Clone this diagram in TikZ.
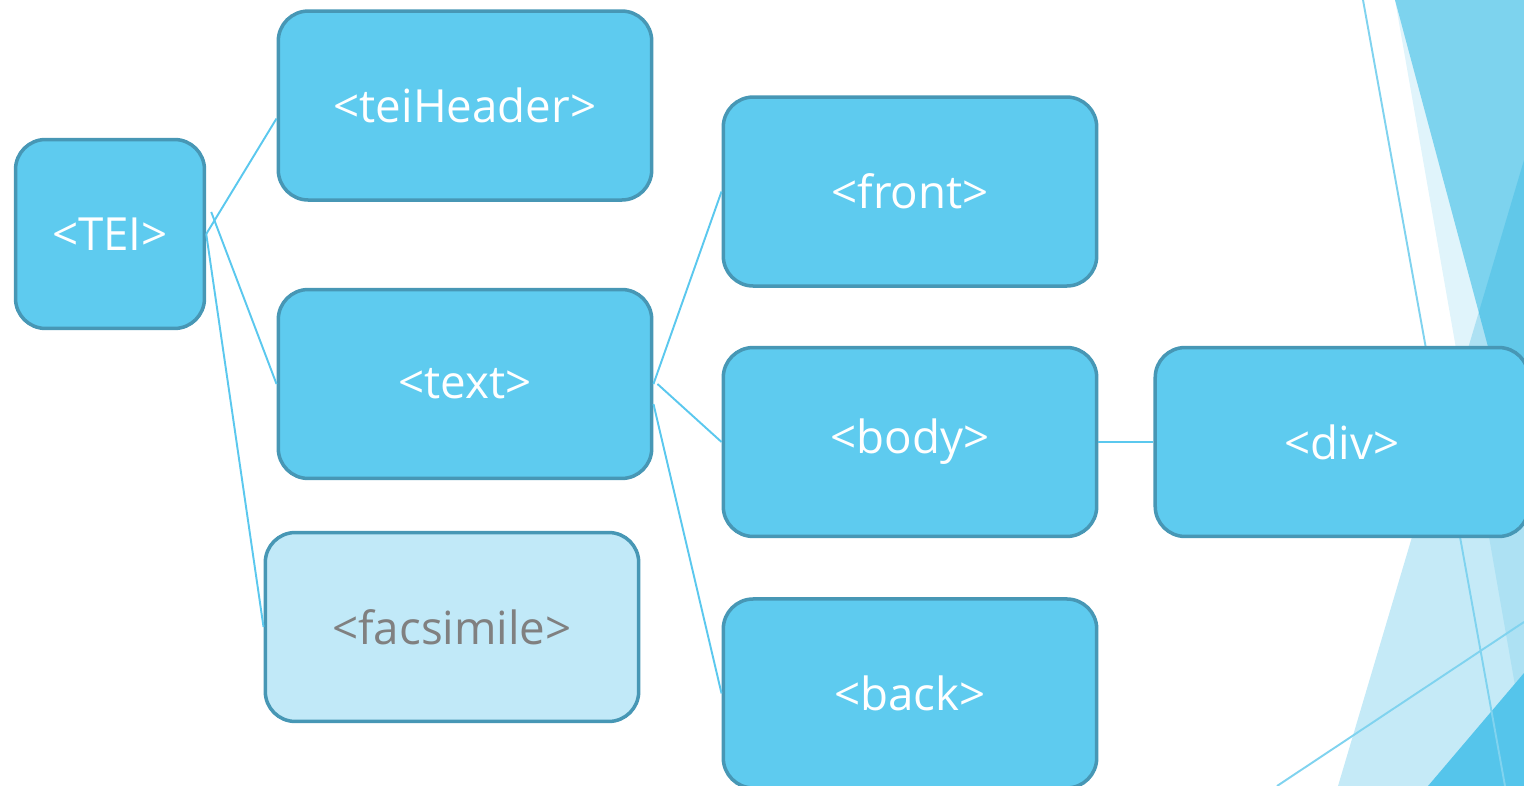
\documentclass[tikz,border=0pt]{standalone}
\usepackage{fontspec}
\setmainfont{Open Sans}
\usetikzlibrary{positioning}
\definecolor{tagblue}{HTML}{5ECBEF}
\definecolor{tagedge}{HTML}{4797B5}
\definecolor{tagpale}{HTML}{C1E9F8}
\definecolor{linkblue}{HTML}{5BC8EE}
\definecolor{facetlight}{HTML}{E0F4FB}
\definecolor{facetmid}{HTML}{7DD3EE}
\definecolor{facetdeep}{RGB}{11,167,221}
\definecolor{facetdark}{HTML}{55C5EB}
\definecolor{facetline}{HTML}{80D3EF}
\tikzset{
  tag/.style={
    draw            = tagedge,
    fill            = tagblue,
    line width      = 2pt,
    rounded corners = 0.6cm,
    minimum width   = 7.47cm,
    minimum height  = 3.78cm,
    inner sep       = 0pt,
    text            = white,
    font            = \fontsize{26}{30}\selectfont},
  rootbox/.style={
    tag,
    minimum width   = 3.78cm},
  faded/.style={
    tag,
    fill            = tagpale,
    text            = black!50},
  link/.style={
    draw            = linkblue,
    line width      = 1.1pt}
}

\begin{document}
\begin{tikzpicture}[x=0.02cm, y=-0.02cm]

\clip (0,0) rectangle (1524,786);

% slide decoration, right edge
\fill[facetlight] (1395,0) -- (1524,0) -- (1524,737) -- cycle;
\fill[facetmid]   (1395,0) -- (1524,0) -- (1524,481) -- cycle;
\fill[facetdeep, fill opacity=0.24] (1524,160) -- (1524,786) -- (1338,786) -- cycle;
\fill[facetdark]  (1428,786) -- (1524,673) -- (1524,786) -- cycle;
\draw[facetline, line width=1.1pt] (1363,0) -- (1505,786);
\draw[facetline, line width=1.1pt] (1277,786) -- (1524,622);

\node[rootbox] (tei) at (110,234) {<TEI>};

\node[tag] (text) at (465,384) {<text>};
\node[tag, above = 1.72cm of text] (header) {<teiHeader>};
\node[faded] (facs) at (452,627) {<facsimile>};

\node[tag] (body) at (910,442) {<body>};
\node[tag, above = 1.16cm of body] (front) {<front>};
\node[tag, below = 1.18cm of body] (back) {<back>};
\node[tag, right = 1.1cm of body] (div) {<div>};

\draw[link] (tei.east) -- ([yshift=-0.26cm]header.west);
\draw[link] ([shift={(0.1cm,0.44cm)}]tei.east) -- (text.west);
\draw[link] (tei.east) -- (facs.west);

\draw[link] (text.east) -- (front.west);
\draw[link] ([xshift=0.08cm]text.east) -- (body.west);
\draw[link] ([yshift=-0.4cm]text.east) -- (back.west);

\draw[link] (body) -- (div);

\end{tikzpicture}
\end{document}
